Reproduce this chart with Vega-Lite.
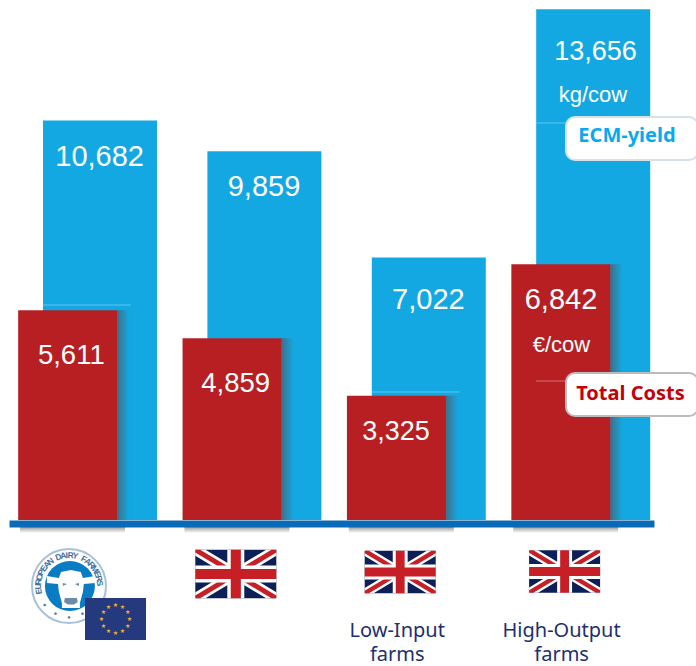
{"$schema":"https://vega.github.io/schema/vega-lite/v6.json","width":696,"height":523.5,"padding":{"left":0,"top":0,"right":0,"bottom":142.5},"autosize":"none","background":"white","config":{"view":{"stroke":null}},
"datasets":{
"farms":[{"farm":"EU","yield":10682,"cost":5611},{"farm":"UK","yield":9859,"cost":4859},{"farm":"Low-Input farms","yield":7022,"cost":3325},{"farm":"High-Output farms","yield":13656,"cost":6842}],
"flags":[{"farm":"UK","at":-1444},{"farm":"Low-Input farms","at":-1390},{"farm":"High-Output farms","at":-1377}],
"seams":[{"farm":"EU","at":5749},{"farm":"Low-Input farms","at":3422},{"farm":"High-Output farms","at":10615}],
"letters":[{"farm":"EU","t":"E","deg":-100},{"farm":"EU","t":"U","deg":-91},{"farm":"EU","t":"R","deg":-82},{"farm":"EU","t":"O","deg":-73},{"farm":"EU","t":"P","deg":-64},{"farm":"EU","t":"E","deg":-55},{"farm":"EU","t":"A","deg":-46},{"farm":"EU","t":"N","deg":-37},{"farm":"EU","t":"D","deg":-20},{"farm":"EU","t":"A","deg":-11},{"farm":"EU","t":"I","deg":-4},{"farm":"EU","t":"R","deg":3},{"farm":"EU","t":"Y","deg":12},{"farm":"EU","t":"F","deg":29},{"farm":"EU","t":"A","deg":38},{"farm":"EU","t":"R","deg":47},{"farm":"EU","t":"M","deg":57},{"farm":"EU","t":"E","deg":67},{"farm":"EU","t":"R","deg":76},{"farm":"EU","t":"S","deg":85},{"farm":"EU","t":"•","deg":128},{"farm":"EU","t":"•","deg":154},{"farm":"EU","t":"•","deg":180},{"farm":"EU","t":"•","deg":206},{"farm":"EU","t":"•","deg":232}],
"stars":[{"farm":"EU","deg":0},{"farm":"EU","deg":30},{"farm":"EU","deg":60},{"farm":"EU","deg":90},{"farm":"EU","deg":120},{"farm":"EU","deg":150},{"farm":"EU","deg":180},{"farm":"EU","deg":210},{"farm":"EU","deg":240},{"farm":"EU","deg":270},{"farm":"EU","deg":300},{"farm":"EU","deg":330}]
},
"data":{"name":"farms"},
"encoding":{"x":{"field":"farm","type":"nominal","title":null,"sort":null,"scale":{"type":"point","domain":["EU","UK","Low-Input farms","High-Output farms"],"range":[9,654],"padding":0.4617},
"axis":{"zindex":1,"ticks":false,"grid":false,"domain":true,"domainColor":"#0a6ab6","domainWidth":7,"labelAngle":0,"labelPadding":107,"labelOffset":-17,"labelFont":"Noto Sans","labelFontSize":20,"labelColor":"#1d2f6f","labelLineHeight":24,"labelOverlap":false,"labelBound":false,"labelFlush":false,"labelBaseline":"middle","labelExpr":"indexof(datum.label,'farms')>0?split(datum.label,' '):''"}}},
"layer":[
{"mark":{"type":"bar","width":114,"xOffset":15.1,"color":"#13a8e2"},"encoding":{"y":{"field":"yield","type":"quantitative","axis":null,"scale":{"domain":[0,13656],"range":[520,9.3],"nice":false,"zero":true}}}},
{"data":{"name":"seams"},"mark":{"type":"tick","orient":"horizontal","width":88,"thickness":1,"xOffset":2,"color":"#62c6ee","opacity":1},"encoding":{"y":{"field":"at","type":"quantitative"}}},
{"mark":{"type":"bar","width":12,"xOffset":38.25,"color":{"gradient":"linear","x1":0,"y1":0,"x2":1,"y2":0,"stops":[{"offset":0,"color":"#3d7089"},{"offset":0.5,"color":"#2a8cb4"},{"offset":1,"color":"#13a8e2"}]}},"encoding":{"y":{"field":"cost","type":"quantitative"}}},
{"mark":{"type":"bar","width":105,"xOffset":-12.4,"color":{"gradient":"linear","x1":0,"y1":0,"x2":0,"y2":1,"stops":[{"offset":0,"color":"#9a9a9a"},{"offset":1,"color":"#ffffff"}]}},"encoding":{"y":{"datum":-187},"y2":{"datum":-347}}},
{"mark":{"type":"bar","width":99,"xOffset":-17.25,"color":"#b81f23"},"encoding":{"y":{"field":"cost","type":"quantitative"}}},
{"data":{"values":[{"farm":"High-Output farms","at":3717}]},"mark":{"type":"tick","orient":"horizontal","width":40,"thickness":1,"xOffset":-22,"color":"#d9706f","opacity":1},"encoding":{"y":{"field":"at","type":"quantitative"}}},
{"data":{"values":[{"farm":"EU","label":"10,682","at":9706},{"farm":"UK","label":"9,859","at":8903},{"farm":"Low-Input farms","label":"7,022","at":5882}]},"mark":{"type":"text","xOffset":14.7,"font":"Liberation Sans","fontSize":29,"color":"white"},"encoding":{"y":{"field":"at","type":"quantitative"},"text":{"field":"label"}}},
{"data":{"values":[{"farm":"High-Output farms","label":"13,656","at":12513}]},"mark":{"type":"text","xOffset":17.4,"font":"Liberation Sans","fontSize":27,"color":"white"},"encoding":{"y":{"field":"at","type":"quantitative"},"text":{"field":"label"}}},
{"data":{"values":[{"farm":"High-Output farms","label":"kg/cow","at":11364}]},"mark":{"type":"text","xOffset":14.9,"font":"Liberation Sans","fontSize":22,"color":"white"},"encoding":{"y":{"field":"at","type":"quantitative"},"text":{"field":"label"}}},
{"data":{"values":[{"farm":"EU","label":"5,611","at":4385},{"farm":"UK","label":"4,859","at":3636}]},"mark":{"type":"text","xOffset":-13.6,"font":"Liberation Sans","fontSize":27.5,"color":"white"},"encoding":{"y":{"field":"at","type":"quantitative"},"text":{"field":"label"}}},
{"data":{"values":[{"farm":"Low-Input farms","label":"3,325","at":2353}]},"mark":{"type":"text","xOffset":-17.7,"font":"Liberation Sans","fontSize":27,"color":"white"},"encoding":{"y":{"field":"at","type":"quantitative"},"text":{"field":"label"}}},
{"data":{"values":[{"farm":"High-Output farms","label":"6,842","at":5882}]},"mark":{"type":"text","xOffset":-17.1,"font":"Liberation Sans","fontSize":29,"color":"white"},"encoding":{"y":{"field":"at","type":"quantitative"},"text":{"field":"label"}}},
{"data":{"values":[{"farm":"High-Output farms","label":"€/cow","at":4679}]},"mark":{"type":"text","xOffset":-16.6,"font":"Liberation Sans","fontSize":22,"color":"white"},"encoding":{"y":{"field":"at","type":"quantitative"},"text":{"field":"label"}}},
{"data":{"values":[{"farm":"High-Output farms","a":10775,"b":9626}]},"mark":{"type":"bar","width":132,"xOffset":53.9,"color":"white","stroke":"#d6e2e8","strokeWidth":2,"cornerRadius":9},"encoding":{"y":{"field":"a","type":"quantitative"},"y2":{"field":"b"}}},
{"data":{"values":[{"farm":"High-Output farms","a":3930,"b":2781}]},"mark":{"type":"bar","width":132,"xOffset":53.9,"color":"white","stroke":"#bcbcbc","strokeWidth":2,"cornerRadius":9},"encoding":{"y":{"field":"a","type":"quantitative"},"y2":{"field":"b"}}},
{"data":{"values":[{"farm":"High-Output farms","label":"ECM-yield","at":10267}]},"mark":{"type":"text","xOffset":48.9,"font":"Noto Sans","fontWeight":"bold","fontSize":20,"color":"#08aaee"},"encoding":{"y":{"field":"at","type":"quantitative"},"text":{"field":"label"}}},
{"data":{"values":[{"farm":"High-Output farms","label":"Total Costs","at":3369}]},"mark":{"type":"text","xOffset":52.4,"font":"Noto Sans","fontWeight":"bold","fontSize":20,"color":"#c4000b"},"encoding":{"y":{"field":"at","type":"quantitative"},"text":{"field":"label"}}},
{"data":{"name":"flags"},"mark":{"type":"point","xOffset":-13.5,"filled":true,"opacity":1,"strokeWidth":0,"color":"#0c1f56","shape":"M-1 -.6H1V.6H-1Z"},"encoding":{"y":{"field":"at","type":"quantitative"},"size":{"condition":{"test":"datum.farm==='UK'","value":6561},"value":5041}}},
{"data":{"name":"flags"},"mark":{"type":"point","xOffset":-13.5,"filled":true,"opacity":1,"strokeWidth":0,"color":"#ffffff","shape":"M-1 -.6L-.75 -.6L1 .45L1 .6L.75 .6L-1 -.45Z M-1 .6L-1 .45L.75 -.6L1 -.6L1 -.45L-.75 .6Z"},"encoding":{"y":{"field":"at","type":"quantitative"},"size":{"condition":{"test":"datum.farm==='UK'","value":6561},"value":5041}}},
{"data":{"name":"flags"},"mark":{"type":"point","xOffset":-13.5,"filled":true,"opacity":1,"strokeWidth":0,"color":"#c71f26","shape":"M-1 -.6L-.88 -.6L1 .53L1 .6L.88 .6L-1 -.53Z M-1 .6L-1 .53L.88 -.6L1 -.6L1 -.53L-.88 .6Z"},"encoding":{"y":{"field":"at","type":"quantitative"},"size":{"condition":{"test":"datum.farm==='UK'","value":6561},"value":5041}}},
{"data":{"name":"flags"},"mark":{"type":"point","xOffset":-13.5,"filled":true,"opacity":1,"strokeWidth":0,"color":"#ffffff","shape":"M-.21 -.6H.21V-.21H1V.21H.21V.6H-.21V.21H-1V-.21H-.21Z"},"encoding":{"y":{"field":"at","type":"quantitative"},"size":{"condition":{"test":"datum.farm==='UK'","value":6561},"value":5041}}},
{"data":{"name":"flags"},"mark":{"type":"point","xOffset":-13.5,"filled":true,"opacity":1,"strokeWidth":0,"color":"#c71f26","shape":"M-.125 -.6H.125V-.125H1V.125H.125V.6H-.125V.125H-1V-.125H-.125Z"},"encoding":{"y":{"field":"at","type":"quantitative"},"size":{"condition":{"test":"datum.farm==='UK'","value":6561},"value":5041}}},
{"data":{"values":[{"farm":"EU"}]},"mark":{"type":"point","shape":"circle","xOffset":-15.9,"filled":true,"opacity":1,"color":"#ffffff","stroke":"#a8c0da","strokeWidth":2,"size":5476},"encoding":{"y":{"datum":-1765}}},
{"data":{"values":[{"farm":"EU"}]},"mark":{"type":"point","shape":"circle","xOffset":-15,"filled":true,"opacity":1,"color":"#0a7cc4","strokeWidth":0,"size":2500},"encoding":{"y":{"datum":-1765}}},
{"data":{"values":[{"farm":"EU"}]},"mark":{"type":"point","xOffset":-14,"filled":true,"opacity":1,"color":"#ffffff","strokeWidth":0,"size":3600,"shape":"M-.33 -.53L0 -.6L.33 -.53L.4 -.33L.8 -.4L.8 -.17L.43 -.13L.4 .13L.3 .5L.3 .67L-.3 .67L-.3 .5L-.4 .13L-.43 -.13L-.8 -.17L-.8 -.4L-.4 -.33Z"},"encoding":{"y":{"datum":-1818}}},
{"data":{"values":[{"farm":"EU"}]},"mark":{"type":"point","xOffset":-14,"filled":true,"opacity":1,"color":"#6d8aa8","strokeWidth":0,"size":3600,"shape":"M-.27 -.17L-.13 -.13L-.27 -.07Z M.27 -.17L.13 -.13L.27 -.07Z M-.2 .33L.2 .33L.23 .47L.1 .55L-.1 .55L-.23 .47Z"},"encoding":{"y":{"datum":-1818}}},
{"data":{"name":"letters"},"mark":{"type":"text","xOffset":-15.9,"font":"Liberation Sans","fontWeight":"bold","fontSize":8.5,"color":"#44709f","radius":31},"encoding":{"y":{"datum":-1765},"theta":{"field":"deg","type":"quantitative","scale":{"domain":[0,360],"range":[0,6.28318]}},"angle":{"field":"deg","type":"quantitative","scale":null},"text":{"field":"t"}}},
{"data":{"values":[{"farm":"EU"}]},"mark":{"type":"point","xOffset":30.6,"filled":true,"opacity":1,"color":"#25397f","strokeWidth":0,"size":3721,"shape":"M-1 -.69H1V.69H-1Z"},"encoding":{"y":{"datum":-2647}}},
{"data":{"name":"stars"},"mark":{"type":"text","xOffset":30.6,"font":"DejaVu Sans","fontSize":6,"color":"#e8b52f","radius":14,"text":"★"},"encoding":{"y":{"datum":-2647},"theta":{"field":"deg","type":"quantitative","scale":{"domain":[0,360],"range":[0,6.28318]}}}}
]}
